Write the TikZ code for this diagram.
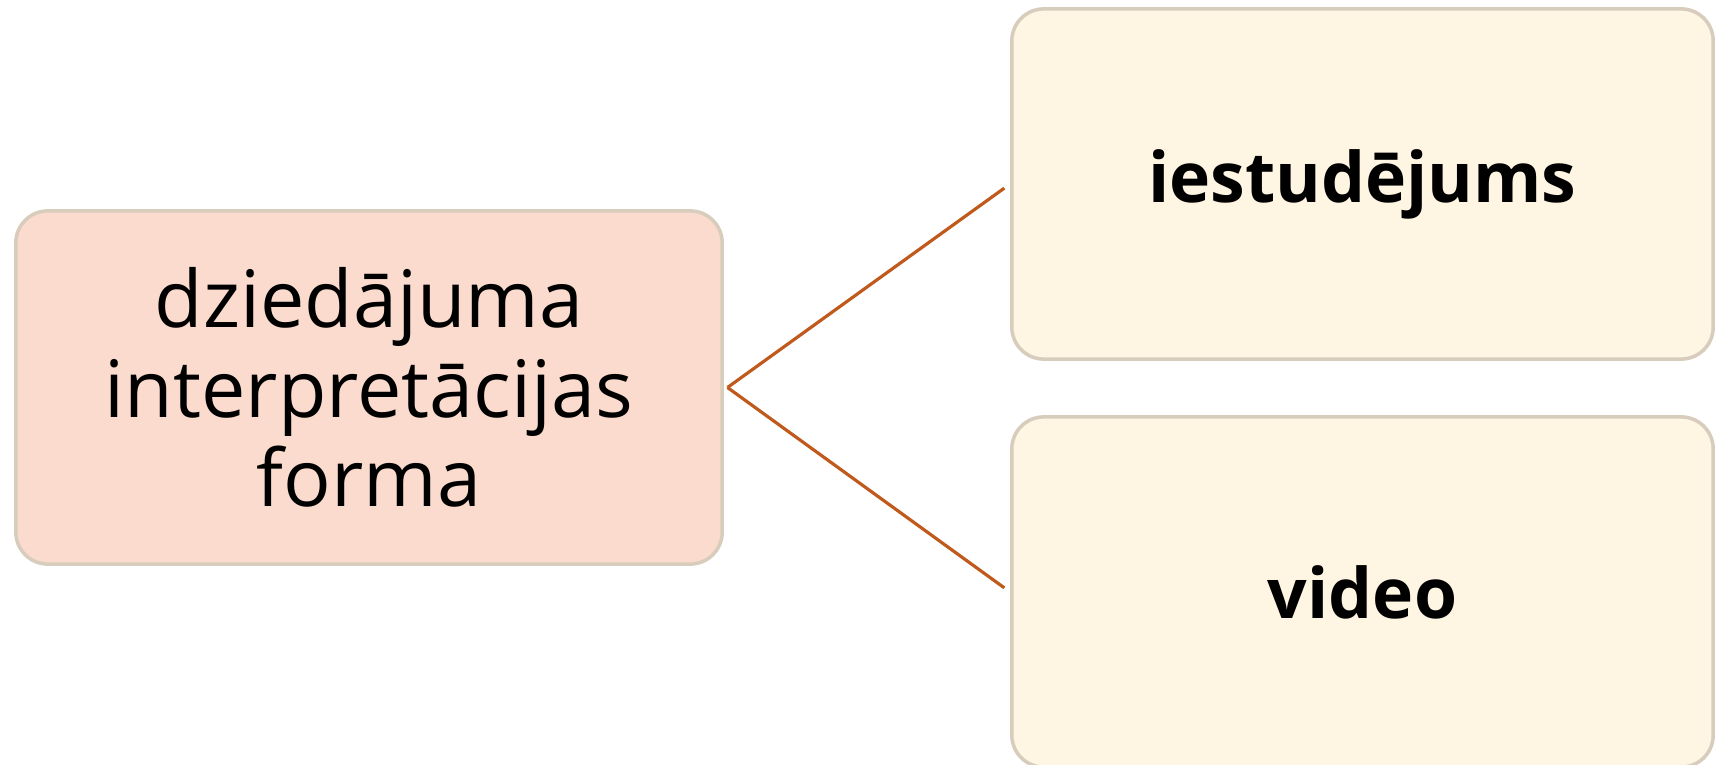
\documentclass[tikz,border=0pt]{standalone}
\usepackage{fontspec}
\setmainfont{Open Sans}
\definecolor{rootfill}{HTML}{FADBCD}
\definecolor{leaffill}{HTML}{FFF5E3}
\definecolor{boxline}{HTML}{D8CCBC}
\definecolor{linkline}{HTML}{C05A1C}
\begin{document}
\begin{tikzpicture}[x=0.01cm,y=-0.01cm,
  formbox/.style={draw=boxline,line width=1pt,rounded corners=0.32cm,inner sep=0pt,align=center},
  rootbox/.style={formbox,fill=rootfill,minimum width=7.06cm,minimum height=3.53cm,font=\fontsize{22.5}{25.5}\selectfont},
  leafbox/.style={formbox,fill=leaffill,minimum width=7.01cm,minimum height=3.5cm,font=\fontsize{19.8}{24}\selectfont\bfseries},
  link/.style={draw=linkline,line width=0.9pt}]
\useasboundingbox (0,0) rectangle (1716,764);
\node[rootbox] (form) at (369,387.5) {dziedājuma\\interpretācijas\\forma};
\node[leafbox] (stage) at (1362.5,184) {iestudējums};
\node[leafbox] (video) at (1362.5,592) {video};
\coordinate (hub) at ([xshift=1pt]form.east);
\draw[link,shorten >=2pt] (hub) -- (stage.west);
\draw[link,shorten >=2pt] (hub) -- (video.west);
\end{tikzpicture}
\end{document}
